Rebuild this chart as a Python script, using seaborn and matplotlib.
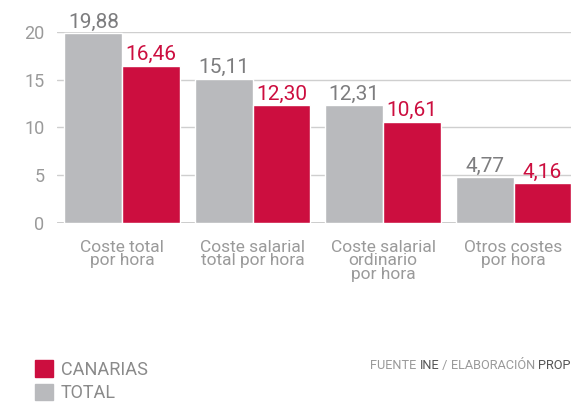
import pandas as pd
import matplotlib.pyplot as plt
import seaborn as sns
from matplotlib.patches import Patch

# Data
categorias = ["Coste total\npor hora", "Coste salarial\ntotal por hora",
              "Coste salarial\nordinario\npor hora", "Otros costes\npor hora"]
total = [19.88, 15.11, 12.31, 4.77]
canarias = [16.46, 12.30, 10.61, 4.16]

gris = "#b9babd"
rojo = "#cc0e3f"
texto = "#9a9a9a"

df = pd.DataFrame({
    "categoria": categorias * 2,
    "valor": total + canarias,
    "serie": ["TOTAL"] * 4 + ["CANARIAS"] * 4,
})

sns.set_style("white")
plt.rcParams["font.family"] = ["Roboto", "DejaVu Sans"]

fig = plt.figure(figsize=(5.71, 4.04), dpi=100)
ax = fig.add_axes([0.0998, 0.448, 0.9002, 0.473])

sns.barplot(data=df, x="categoria", y="valor", hue="serie",
            hue_order=["TOTAL", "CANARIAS"], palette=[gris, rojo],
            width=0.885, saturation=1, ax=ax, legend=False)

# value labels
for cont, col in zip(ax.containers, ["#7d7d7f", rojo]):
    ax.bar_label(cont, labels=[f"{v.get_height():.2f}".replace(".", ",") for v in cont],
                 padding=1, fontsize=15, color=col)

ax.set_ylim(0, 20)
ax.set_xlim(-0.5, 3.44)
ax.set_yticks([0, 5, 10, 15, 20])
ax.yaxis.grid(True, color="#cfcfcf", linewidth=1)
ax.set_axisbelow(True)
ax.axhline(0, color="#c8c8c8", linewidth=2, zorder=0)
for s in ax.spines.values():
    s.set_visible(False)
ax.tick_params(axis="y", length=0, pad=9, labelsize=13, labelcolor=texto)
ax.tick_params(axis="x", length=0, pad=12, labelsize=12.5, labelcolor=texto)
for lbl in ax.get_xticklabels():
    lbl.set_linespacing(0.88)
ax.set_xlabel("")
ax.set_ylabel("")

# legend
handles = [Patch(color=rojo, label="CANARIAS"), Patch(color=gris, label="TOTAL")]
fig.legend(handles=handles, loc="upper left", bbox_to_anchor=(0.061, 0.108),
           frameon=False, fontsize=13, labelcolor="#8a8a8a",
           handlelength=1.0, handleheight=1.0, handletextpad=0.45,
           labelspacing=0.3, borderpad=0, borderaxespad=0)

# source, with INE and PROP darker
parts = [("FUENTE ", texto), ("INE", "#555555"), (" / ", texto),
         ("ELABORACIÓN ", texto), ("PROP", "#555555")]
fig.canvas.draw()
x = 0.999
for word, col in reversed(parts):
    t = fig.text(x, 0.086, word, ha="right", fontsize=9.2, color=col)
    bb = t.get_window_extent(renderer=fig.canvas.get_renderer())
    x = bb.x0 / fig.bbox.width

fig.savefig("out.png", dpi=100)
